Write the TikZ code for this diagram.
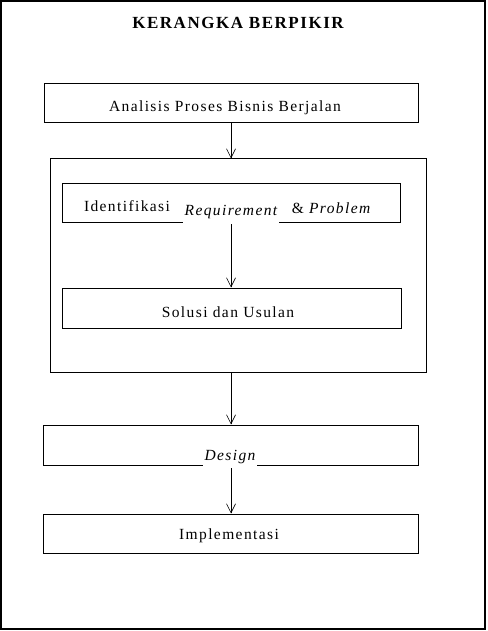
\documentclass[tikz,border=0pt]{standalone}
\usepackage{fontspec}
\setmainfont{Liberation Serif}[LetterSpace=9]
\usetikzlibrary{arrows.meta}
\tikzset{
  box/.style={draw, line width=1pt},
  lbl/.style={font=\fontsize{15.5}{18}\selectfont, inner sep=1pt},
  ilbl/.style={lbl, font=\fontsize{15.5}{18}\selectfont\itshape, fill=white, inner sep=2pt},
  flow/.style={draw, line width=0.8pt, -{Straight Barb[length=9pt,width=9pt,line width=0.6pt]}}
}
\begin{document}
\begin{tikzpicture}[x=1pt,y=-1pt]
\useasboundingbox (0,0) rectangle (487,631);
\draw[line width=1.2pt] (1,1) rectangle (485,629);
\node[font=\fontsize{17}{20}\selectfont\bfseries, inner sep=0pt] (title) at (238,23) {KERANGKA BERPIKIR};
% boxes
\node[box, minimum width=374pt, minimum height=39pt, inner sep=0pt] (b1) at (231,103.5) {};
\node[lbl] (t1) at (225,108) {Analisis Proses Bisnis Berjalan};
\node[box, minimum width=376pt, minimum height=213pt, inner sep=0pt] (cont) at (238,265.5) {};
\node[box, minimum width=338pt, minimum height=39pt, inner sep=0pt] (b2) at (231,202.5) {};
\node[lbl] (t2a) at (127,206) {Identifikasi};
\node[ilbl, minimum height=24pt] (t2b) at (231,212) {Requirement};
\node[ilbl, minimum height=26pt] (t2c) at (331,208) {\textup{\&} Problem};
\node[box, minimum width=339pt, minimum height=40pt, inner sep=0pt] (b3) at (231.5,308) {};
\node[lbl] (t3) at (228,312) {Solusi dan Usulan};
\node[box, minimum width=375pt, minimum height=40pt, inner sep=0pt] (b4) at (230.5,445) {};
\node[ilbl, minimum height=22pt] (t4) at (230,457) {Design};
\node[box, minimum width=375pt, minimum height=39pt, inner sep=0pt] (b5) at (230.5,533.5) {};
\node[lbl] (t5) at (229,536) {Implementasi};
% arrows
\path[flow] (b1.south -| 231,0) -- (cont.north -| 231,0);
\path[flow] (t2b.south -| 231,0) -- (b3.north -| 231,0);
\path[flow] (cont.south -| 231,0) -- (b4.north -| 231,0);
\path[flow] (t4.south -| 231,0) -- (b5.north -| 231,0);
\end{tikzpicture}
\end{document}
